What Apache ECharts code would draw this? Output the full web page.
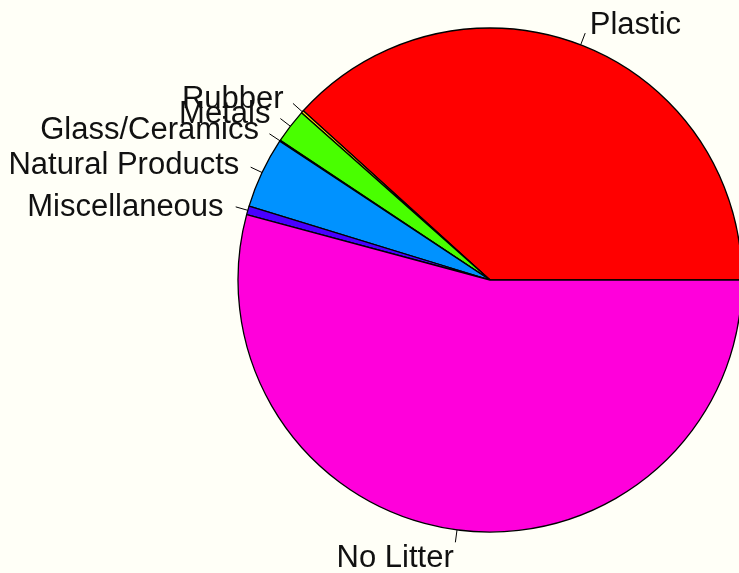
<!DOCTYPE html>
<html>
<head>
<meta charset="utf-8">
<script src="https://cdn.jsdelivr.net/npm/echarts@6/dist/echarts.min.js"></script>
<style>
html,body{margin:0;padding:0;background:#fffff7;}
#chart{width:739px;height:573px;}
</style>
</head>
<body>
<div id="chart"></div>
<script>
const categories = ['Plastic', 'Rubber', 'Metals', 'Glass/Ceramics', 'Natural Products', 'Miscellaneous', 'No Litter'];
const values = [38.3, 0.17, 2.2, 0.06, 4.55, 0.56, 54.2];
const colors = ['#FF0000', '#FFDB00', '#49FF00', '#00FF92', '#0092FF', '#4900FF', '#FF00DB'];

const CX = 490, CY = 280, R = 252;
const total = values.reduce((a, b) => a + b, 0);
function midAngle(i) {
  let c = 0;
  for (let j = 0; j < i; j++) c += values[j];
  return (c + values[i] / 2) / total * 2 * Math.PI;
}

const chart = echarts.init(document.getElementById('chart'), null, {renderer: 'canvas'});
chart.setOption({
  backgroundColor: '#fffff7',
  animation: false,
  series: [{
    type: 'pie',
    center: [CX, CY],
    radius: [0, R],
    startAngle: 0,
    clockwise: false,
    avoidLabelOverlap: false,
    minShowLabelAngle: 0,
    data: categories.map((c, i) => ({name: c, value: values[i], itemStyle: {color: colors[i]}})),
    itemStyle: {borderColor: '#000', borderWidth: 1.3},
    emphasis: {disabled: true},
    label: {
      show: true,
      position: 'outside',
      formatter: '{b}',
      fontFamily: 'Liberation Sans, Arial, sans-serif',
      fontSize: 31,
      color: '#111'
    },
    labelLine: {show: true, length: 13, length2: 0, lineStyle: {color: '#000', width: 1}},
    labelLayout: function (params) {
      const a = midAngle(params.dataIndex);
      const c = Math.cos(a), s = Math.sin(a);
      const p0 = [CX + R * c, CY - R * s];
      const p1 = [CX + 1.05 * R * c, CY - 1.05 * R * s];
      return {
        x: CX + 1.1 * R * c,
        y: CY - 1.1 * R * s + 4,
        align: c < 0 ? 'right' : 'left',
        verticalAlign: 'middle',
        labelLinePoints: [p0, p1, p1]
      };
    }
  }]
});
</script>
</body>
</html>
